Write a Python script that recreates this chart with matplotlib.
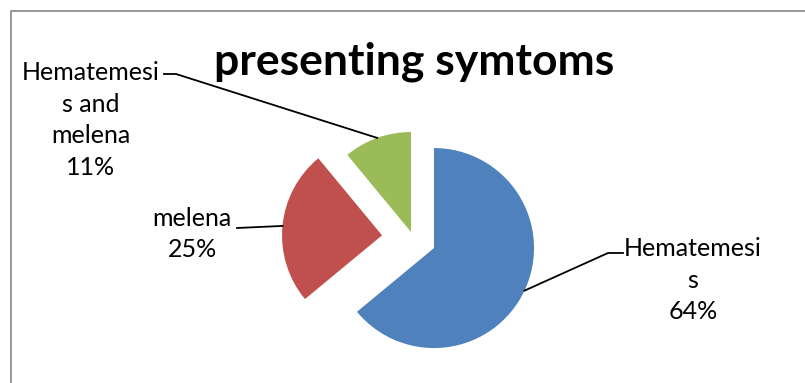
import matplotlib
matplotlib.use("Agg")
import matplotlib.pyplot as plt
import numpy as np

# datos del grafico
categorias = ['Hematemesis', 'melena', 'Hematemesis and melena']
valores = [64, 25, 11]
etiquetas = ['Hematemesi\ns', 'melena', 'Hematemesi\ns and\nmelena']
colores = ['#4F81BD', '#C0504D', '#9BBB59']
separacion = [0.229, 0.314, 0.067]

W, H = 805, 383
radio = 100
fig = plt.figure(figsize=(W / 100, H / 100), dpi=100)
ax = fig.add_axes([0, 0, 1, 1])

# pie en coordenadas de pixel (y hacia arriba); explode va en unidades absolutas
wedges, _ = ax.pie(valores, colors=colores, explode=[s * radio for s in separacion],
                   startangle=90, counterclock=False, radius=radio,
                   center=(413.3, H - 238.3), wedgeprops=dict(linewidth=0))
ax.set_xlim(0, W)
ax.set_ylim(0, H)
ax.set_aspect('equal')
ax.axis('off')

# borde del grafico
ax.plot([10.5, 10.5, W + 5], [-5, H - 10.5, H - 10.5], color='#868686', lw=1.2,
        clip_on=False)

ax.text(414, H - 62, 'presenting symtoms', ha='center', va='center',
        fontsize=32, fontweight='bold', family='Lato')

# posicion del texto y del quiebre de la linea guia
pos_texto = [(693, 280), (192, 234), (91, 120)]
quiebre = [[(623, 253), (608, 253)], [(237, 228)], [(164, 74), (176, 74)]]

for w, txt, val, pt, q in zip(wedges, etiquetas, valores, pos_texto, quiebre):
    ang = np.deg2rad((w.theta1 + w.theta2) / 2)
    ax_ = w.center[0] + w.r * np.cos(ang)
    ay_ = w.center[1] + w.r * np.sin(ang)
    xs = [p[0] for p in q] + [ax_]
    ys = [H - p[1] for p in q] + [ay_]
    ax.plot(xs, ys, color='black', lw=1.3)
    ax.text(pt[0], H - pt[1], txt + '\n' + str(val) + '%', ha='center',
            va='center', fontsize=18, family='Lato', linespacing=1.45)

fig.savefig('out.png', dpi=100)
